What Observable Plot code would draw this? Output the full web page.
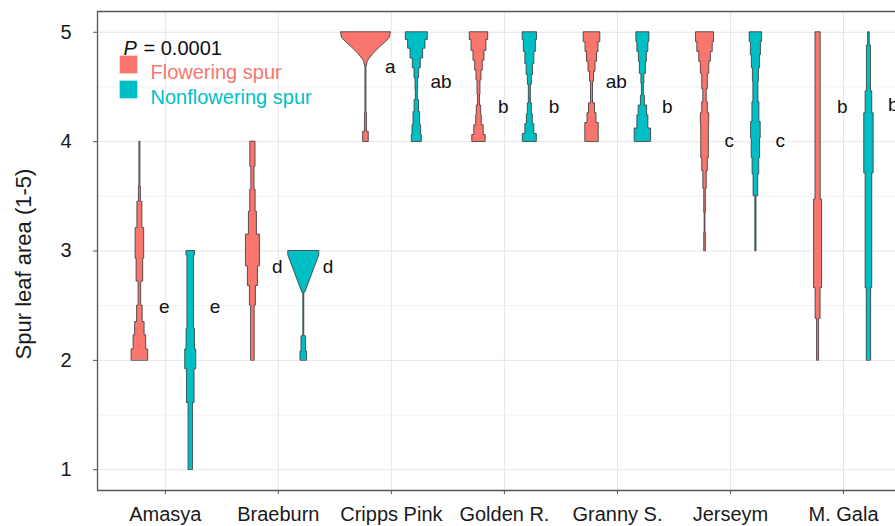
<!DOCTYPE html>
<html>
<head>
<meta charset="utf-8">
<script src="https://cdn.jsdelivr.net/npm/d3@7"></script>
<script src="https://cdn.jsdelivr.net/npm/@observablehq/plot@0.6"></script>
<style>
  body { margin: 0; background: #fff; }
  #chart svg { display: block; }
</style>
</head>
<body>
<div id="chart"></div>
<script>
// ---------- data ----------
const cultivars = ["Amasya", "Braeburn", "Cripps Pink", "Golden R.", "Granny S.", "Jerseym", "M. Gala"];
const spurTypes = ["Flowering spur", "Nonflowering spur"];
const spurColors = ["#F8766D", "#00BFC4"];
const yTicks = [1, 2, 3, 4, 5];
const pValue = "0.0001";
const yLabel = "Spur leaf area (1-5)";

// Violin density profiles, bottom to top: [scoreFrom, scoreTo, densityAtFrom, densityAtTo (optional)]
const floweringViolins = [
  // Amasya
  [[2.0, 2.1, 8.3], [2.1, 2.23, 6.3], [2.23, 2.35, 4.7], [2.35, 2.5, 2.8], [2.5, 2.72, 1.3],
   [2.72, 2.93, 3.3], [2.93, 3.21, 4.3], [3.21, 3.45, 2.5], [3.45, 3.59, 1.0], [3.59, 4.0, 0.5]],
  // Braeburn
  [[2.0, 2.5, 1.8], [2.5, 2.68, 3.0], [2.68, 2.86, 5.0], [2.86, 3.15, 7.0], [3.15, 3.36, 4.0],
   [3.36, 3.56, 2.7], [3.56, 3.77, 1.6], [3.77, 4.0, 2.6]],
  // Cripps Pink
  [[4.0, 4.09, 2.8], [4.09, 4.26, 1.0], [4.26, 4.69, 0.5], [4.69, 4.73, 1.0, 1.7], [4.73, 4.76, 1.7, 3.8],
   [4.76, 4.81, 3.8, 8.3], [4.81, 4.87, 8.3, 15], [4.87, 4.91, 15, 20], [4.91, 4.95, 20, 24], [4.95, 5.0, 24, 25]],
  // Golden R.
  [[4.0, 4.06, 6.7], [4.06, 4.15, 4.7], [4.15, 4.24, 2.8], [4.24, 4.33, 2.2], [4.33, 4.43, 1.0],
   [4.43, 4.56, 1.5], [4.56, 4.65, 2.5], [4.65, 4.74, 3.8], [4.74, 4.83, 5.5], [4.83, 4.93, 7.5], [4.93, 5.0, 9.2]],
  // Granny S.
  [[4.0, 4.17, 6.7], [4.17, 4.26, 4.5], [4.26, 4.35, 3.0], [4.35, 4.55, 1.0], [4.55, 4.64, 2.0],
   [4.64, 4.73, 3.5], [4.73, 4.82, 5.0], [4.82, 4.91, 6.5], [4.91, 5.0, 8.3]],
  // Jerseym
  [[3.0, 3.17, 0.8], [3.17, 3.35, 0.4], [3.35, 3.57, 0.8], [3.57, 3.73, 1.7], [3.73, 3.85, 2.8],
   [3.85, 4.03, 3.8], [4.03, 4.15, 3.8], [4.15, 4.26, 4.2], [4.26, 4.36, 2.8], [4.36, 4.48, 1.7],
   [4.48, 4.62, 2.8], [4.62, 4.73, 4.2], [4.73, 4.82, 5.8], [4.82, 4.91, 7.7], [4.91, 5.0, 9.0]],
  // M. Gala
  [[2.0, 2.38, 1.0], [2.38, 2.66, 2.5], [2.66, 3.47, 4.0], [3.47, 5.0, 2.6]]
];

const nonfloweringViolins = [
  // Amasya
  [[1.0, 1.61, 2.2], [1.61, 1.92, 3.8], [1.92, 2.1, 5.5], [2.1, 2.29, 4.2], [2.29, 2.96, 3.3], [2.96, 3.0, 4.3]],
  // Braeburn
  [[2.0, 2.08, 3.3], [2.08, 2.22, 2.3], [2.22, 2.62, 0.5], [2.62, 2.96, 1.5, 15.5], [2.96, 3.0, 15.5]],
  // Cripps Pink
  [[4.0, 4.06, 5.0], [4.06, 4.15, 4.3], [4.15, 4.27, 3.3], [4.27, 4.38, 2.2], [4.38, 4.47, 1.0],
   [4.47, 4.58, 1.3], [4.58, 4.67, 2.3], [4.67, 4.76, 4.0], [4.76, 4.85, 6.3], [4.85, 4.93, 8.7], [4.93, 5.0, 11]],
  // Golden R.
  [[4.0, 4.07, 7.0], [4.07, 4.16, 4.5], [4.16, 4.25, 3.0], [4.25, 4.35, 2.0], [4.35, 4.52, 1.0],
   [4.52, 4.61, 2.0], [4.61, 4.71, 3.2], [4.71, 4.82, 4.5], [4.82, 4.93, 6.0], [4.93, 5.0, 7.2]],
  // Granny S.
  [[4.0, 4.12, 8.2], [4.12, 4.24, 5.5], [4.24, 4.33, 4.2], [4.33, 4.42, 2.0], [4.42, 4.53, 1.0],
   [4.53, 4.62, 1.5], [4.62, 4.73, 3.0], [4.73, 4.82, 4.0], [4.82, 4.91, 5.5], [4.91, 5.0, 6.5]],
  // Jerseym
  [[3.0, 3.5, 0.6], [3.5, 3.7, 2.3], [3.7, 3.85, 3.3], [3.85, 4.03, 4.2], [4.03, 4.18, 4.8],
   [4.18, 4.36, 3.5], [4.36, 4.55, 2.5], [4.55, 4.67, 3.0], [4.67, 4.79, 4.0], [4.79, 4.91, 5.0], [4.91, 5.0, 6.2]],
  // M. Gala
  [[2.0, 2.66, 2.2], [2.66, 3.71, 3.3], [3.71, 4.26, 4.7], [4.26, 4.46, 3.3], [4.46, 4.88, 2.0], [4.88, 5.0, 0.8]]
];

const floweringLetters = ["e", "d", "a", "b", "ab", "c", "b"];
const nonfloweringLetters = ["e", "d", "ab", "b", "b", "c", "b"];
const floweringLetterY = [2.49, 2.85, 4.68, 4.32, 4.55, 4.01, 4.32];
const nonfloweringLetterY = [2.49, 2.85, 4.55, 4.32, 4.32, 4.01, 4.34];

// ---------- layout ----------
const dodge = [-0.225, 0.225];          // violin offset from category centre
const letterShift = 0.215;              // letter offset from violin centre
const densityToWidth = 1 / 113;         // density -> category units
const xDomain = [-0.6, 6.46];
const yDomain = [0.81, 5.19];

const violinSets = [floweringViolins, nonfloweringViolins];
const rows = [];
violinSets.forEach((set, g) => {
  set.forEach((segs, i) => {
    for (const [y0, y1, w0, w1 = w0] of segs) {
      rows.push({cultivar: i, group: spurTypes[g], g, y: y0, w: w0});
      rows.push({cultivar: i, group: spurTypes[g], g, y: y1, w: w1});
    }
  });
});

const letterRows = [];
[[floweringLetters, floweringLetterY], [nonfloweringLetters, nonfloweringLetterY]].forEach(([L, Y], g) => {
  L.forEach((t, i) => letterRows.push({x: i + dodge[g] + letterShift, y: Y[i], text: t}));
});

const font = "'Liberation Sans', Arial, sans-serif";

const chart = Plot.plot({
  width: 895,
  height: 526,
  marginLeft: 97,
  marginRight: 0,
  marginTop: 11,
  marginBottom: 36,
  style: {fontFamily: font, fontSize: "20px", background: "#fff", color: "#1a1a1a"},
  x: {type: "linear", domain: xDomain, axis: null},
  y: {domain: yDomain, axis: null},
  color: {domain: spurTypes, range: spurColors},
  marks: [
    Plot.gridY(d3.range(1.5, 5, 1), {stroke: "#f1f1f1", strokeOpacity: 1, strokeWidth: 1}),
    Plot.gridY(yTicks, {stroke: "#e6e6e6", strokeOpacity: 1, strokeWidth: 1}),
    Plot.gridX(d3.range(cultivars.length), {stroke: "#e6e6e6", strokeOpacity: 1, strokeWidth: 1}),
    Plot.areaX(rows, {
      y: "y",
      x1: d => d.cultivar + dodge[d.g] - d.w * densityToWidth,
      x2: d => d.cultivar + dodge[d.g] + d.w * densityToWidth,
      z: d => d.group + d.cultivar,
      fill: "group",
      stroke: "#333",
      strokeWidth: 0.8,
      curve: "linear"
    }),
    Plot.text(letterRows, {x: "x", y: "y", text: "text", fontSize: 19, fill: "#111"}),
    Plot.ruleX([xDomain[0]], {stroke: "#555", strokeWidth: 1.3}),
    Plot.ruleY([yDomain[0], yDomain[1]], {stroke: "#555", strokeWidth: 1.3}),
    Plot.axisX(d3.range(cultivars.length), {
      tickFormat: i => cultivars[i], tickSize: 4, tickPadding: 12, fontSize: 20,
      stroke: "#555", fill: "#1a1a1a", label: null
    }),
    Plot.axisY(yTicks, {
      tickFormat: d3.format("d"),
      tickSize: 4, tickPadding: 22, fontSize: 20, stroke: "#555", fill: "#1a1a1a", label: null
    }),
    Plot.text([yLabel], {frameAnchor: "left", text: d => d, rotate: -90, textAnchor: "middle", dx: -74, dy: 13, fontSize: 22, fill: "#1a1a1a"}),
    // legend inside the panel
    Plot.text(["P"], {frameAnchor: "top-left", text: d => d, dx: 26, dy: 29, textAnchor: "start", fontStyle: "italic", fontSize: 20, fill: "#111"}),
    Plot.text([`= ${pValue}`], {frameAnchor: "top-left", text: d => d, dx: 46, dy: 29, textAnchor: "start", fontSize: 20, fill: "#111"}),
    ...spurTypes.map((t, i) => Plot.dot([t], {frameAnchor: "top-left", dx: 31, dy: 53 + 25 * i, symbol: "square", r: 10, fill: spurColors[i], stroke: "none"})),
    ...spurTypes.map((t, i) => Plot.text([t], {frameAnchor: "top-left", text: d => d, dx: 53, dy: 53 + 25 * i, textAnchor: "start", fontSize: 20, fill: spurColors[i]}))
  ]
});
document.getElementById("chart").appendChild(chart);
</script>
</body>
</html>
